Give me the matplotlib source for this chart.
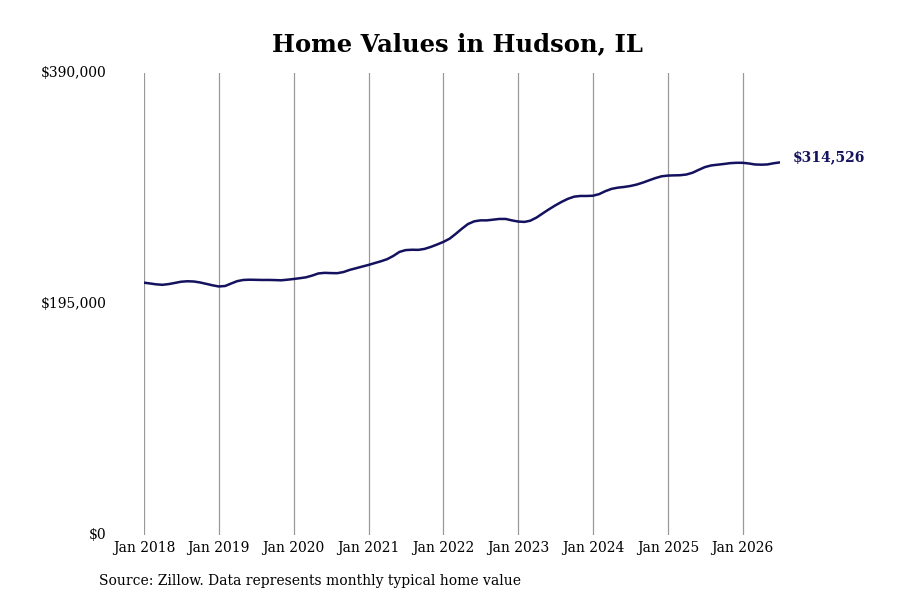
import matplotlib
matplotlib.use("Agg")
import matplotlib.pyplot as plt
import pandas as pd

start_month = "2018-01-01"
values = [
    # 2018
    213000, 212300, 211600, 211200, 211800, 212800, 213800, 214200, 214000, 213200, 212000, 210800,
    # 2019
    209800, 210200, 212200, 214300, 215300, 215500, 215400, 215300, 215300, 215200, 215000, 215500,
    # 2020
    216100, 216800, 217500, 219000, 220800, 221300, 221100, 221000, 222000, 223800, 225200, 226600,
    # 2021
    228000, 229600, 231000, 232800, 235500, 239000, 240500, 240800, 240700, 241500, 243200, 245200,
    # 2022
    247400, 250200, 254000, 258500, 262500, 264800, 265600, 265600, 266200, 266800, 266800, 265600,
    # 2023
    264600, 264300, 265300, 268000, 271500, 275000, 278200, 281200, 283800, 285600, 286200, 286200,
    # 2024
    286400, 287800, 290200, 292200, 293200, 293800, 294600, 295800, 297500, 299400, 301300, 302800,
    # 2025
    303400, 303600, 303700, 304300, 305800, 308300, 310600, 312000, 312600, 313200, 313900, 314200,
    # 2026
    314200, 313600, 312800, 312600, 312800, 313800, 314526,
]
y_ticks = [0, 195000, 390000]
y_tick_labels = ["$0", "$195,000", "$390,000"]
x_tick_years = list(range(2018, 2027))
title = "Home Values in Hudson, IL"
source = "Source: Zillow. Data represents monthly typical home value"
end_label = "$314,526"

dates = pd.date_range(start_month, periods=len(values), freq="MS")

plt.rcParams['font.family'] = ['DejaVu Serif']
fig = plt.figure(figsize=(9, 6), dpi=100)
ax = fig.add_axes([0.16, 1 - 535 / 600, (780 - 144) / 900, (535 - 73) / 600])

line_color = "#14125e"
ax.plot(dates, values, color=line_color, lw=1.8, solid_capstyle="round")

ax.set_ylim(0, 390000)
ax.set_xlim(pd.Timestamp("2018-01-01"), dates[-1] + pd.Timedelta(days=1))
ax.set_yticks(y_ticks)
ax.set_yticklabels(y_tick_labels)
xt = [pd.Timestamp(f"{y}-01-01") for y in x_tick_years]
ax.set_xticks(xt)
ax.set_xticklabels([f"Jan {y}" for y in x_tick_years])
ax.tick_params(axis="y", length=0, pad=27, labelsize=10)
ax.tick_params(axis="x", length=0, pad=4, labelsize=10)
for lbl in ax.get_yticklabels():
    lbl.set_verticalalignment("center")
ax.grid(axis="x", color="#999999", lw=0.9)
ax.grid(axis="y", visible=False)
for s in ax.spines.values():
    s.set_visible(False)

ax.annotate(end_label, xy=(dates[-1], values[-1]), xytext=(9, 4),
            textcoords="offset points", ha="left", va="center",
            fontsize=10, fontweight="bold", color=line_color)

fig.text(457 / 900, 1 - 44 / 600, title, ha="center", va="center",
         fontsize=17.5, fontweight="bold")
fig.text(99 / 900, 1 - 581 / 600, source, ha="left", va="center", fontsize=10)

fig.savefig("out.png", dpi=100)
